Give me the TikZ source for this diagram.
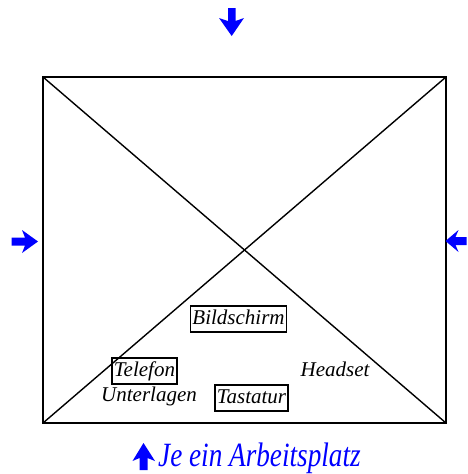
\documentclass[tikz,border=0pt]{standalone}
\usepackage{fontspec}
\setmainfont{Liberation Serif}
\definecolor{arrblue}{RGB}{0,0,255}
\tikzset{
  lbl/.style={font=\fontsize{21}{25}\selectfont\itshape, inner sep=0pt, anchor=base},
  boxlbl/.style={lbl, draw, line width=1.3pt, text height=15.5pt, text depth=5.5pt, inner ysep=2.5pt, inner xsep=2pt},
  fatarrow/.style={fill=arrblue, draw=none}
}
\begin{document}
\begin{tikzpicture}[x=1pt,y=-1pt]
\useasboundingbox (0,0) rectangle (468,474);
% frame and diagonals
\coordinate (tl) at (43,77);
\coordinate (tr) at (446,77);
\coordinate (br) at (446,423);
\coordinate (bl) at (43,423);
\draw[line width=1.4pt] (tl) rectangle (br);
\draw[line width=1.4pt] (tl) -- (br);
\draw[line width=1.4pt] (tr) -- (bl);
% arrows
\fill[fatarrow] (228,8) -- (235.5,8) -- (235.5,21) -- (244,18) -- (231.7,36) -- (219,18) -- (228,21) -- cycle;
\fill[fatarrow] (11.5,237.5) -- (25,237.5) -- (22,230) -- (38,241.5) -- (22,253) -- (25,245.5) -- (11.5,245.5) -- cycle;
\fill[fatarrow] (466.5,237) -- (455.5,237) -- (458.5,230) -- (445.5,241) -- (458.5,252) -- (455.5,245) -- (466.5,245) -- cycle;
\fill[fatarrow] (139.5,470) -- (139.5,458) -- (132.5,461) -- (143.5,443) -- (155,461) -- (147.5,458) -- (147.5,470) -- cycle;
% labels
\node[boxlbl] (bild) at (238.5,324) {Bildschirm};
\node[boxlbl] (tel) at (144.5,376) {Telefon};
\node[lbl] (head) at (335,376) {Headset};
\node[lbl] (unter) at (149,401) {Unterlagen};
\node[boxlbl] (tast) at (251.5,403) {Tastatur};
\node[font=\fontsize{34}{38}\selectfont\itshape, text=arrblue, inner sep=0pt, anchor=base west] (title) at (158,466) {\scalebox{0.8}[1]{Je ein Arbeitsplatz}};
\end{tikzpicture}
\end{document}
